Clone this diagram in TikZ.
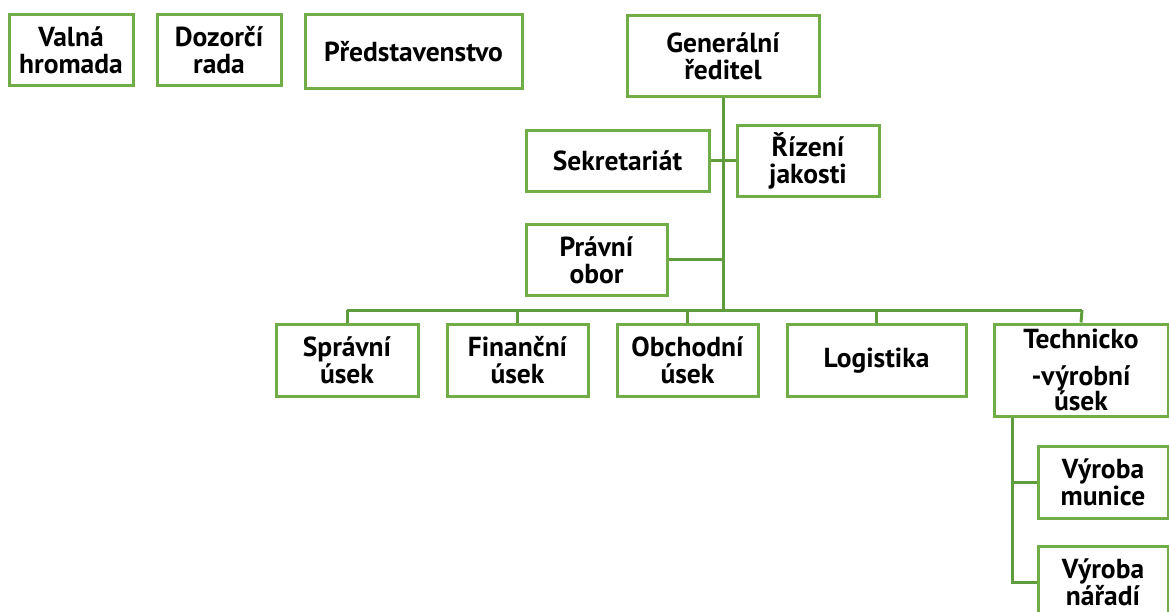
\documentclass[tikz,border=0pt]{standalone}
\usepackage{fontspec}
\setmainfont{PT Sans}
\definecolor{boxGreen}{HTML}{70AD47}
\definecolor{lineGreen}{HTML}{5E9C3C}
\tikzset{
    BOX/.style={draw=boxGreen, fill=white, line width=3pt, shape=rectangle,
        inner sep=0pt, align=center,
        font={\fontsize{27.5}{27}\selectfont\bfseries}},
    EDGE/.style={draw=lineGreen, line width=3pt}
}
\pgfdeclarelayer{edgelayer}
\pgfdeclarelayer{nodelayer}
\pgfsetlayers{edgelayer,nodelayer,main}
\begin{document}
\begin{tikzpicture}[x=1pt, y=-1pt]
    \useasboundingbox (0,0) rectangle (1169,612);
    \clip (0,0) rectangle (1169,612);
    \begin{pgfonlayer}{nodelayer}
        \node [BOX, minimum width=124pt, minimum height=71pt] (1) at (71, 50.5) {Valná\\hromada};
        \node [BOX, minimum width=124pt, minimum height=71pt] (2) at (219, 50.5) {Dozorčí\\rada};
        \node [BOX, minimum width=217pt, minimum height=74pt] (3) at (413.5, 52) {Představenstvo};
        \node [BOX, minimum width=192pt, minimum height=81pt] (4) at (723, 56) {Generální\\ředitel};
        \node [BOX, minimum width=183pt, minimum height=61pt] (5) at (617.5, 161) {Sekretariát};
        \node [BOX, minimum width=142pt, minimum height=71pt] (6) at (808, 161) {Řízení\\jakosti};
        \node [BOX, minimum width=141pt, minimum height=70pt] (7) at (596.5, 260) {Právní\\obor};
        \node [BOX, minimum width=142pt, minimum height=72pt] (8) at (347, 360) {Správní\\úsek};
        \node [BOX, minimum width=141pt, minimum height=72pt] (9) at (517.5, 360) {Finanční\\úsek};
        \node [BOX, minimum width=141pt, minimum height=72pt] (10) at (687.5, 360) {Obchodní\\úsek};
        \node [BOX, minimum width=179pt, minimum height=72pt] (11) at (876.5, 360.5) {Logistika};
        \node [BOX, minimum width=174pt, minimum height=92pt] (12) at (1081, 370) {Technicko\\[10pt]-výrobní\\[-2pt]úsek};
        \node [BOX, minimum width=130pt, minimum height=72pt] (13) at (1103, 482) {Výroba\\munice};
        \node [BOX, minimum width=130pt, minimum height=72pt] (14) at (1103, 582) {Výroba\\nářadí};
        \coordinate (15) at (723, 310);
        \coordinate (16) at (347, 310);
        \coordinate (17) at (1082, 310);
        \coordinate (18) at (1012, 417);
        \coordinate (19) at (1012, 582);
    \end{pgfonlayer}
    \begin{pgfonlayer}{edgelayer}
        \draw[EDGE] (4.south) to (15);
        \draw[EDGE] (16) to (17);
        \draw[EDGE] (5.east) to (5.east -| 15);
        \draw[EDGE] (6.west) to (6.west -| 15);
        \draw[EDGE] (7.east) to (7.east -| 15);
        \draw[EDGE] (16) to (8.north);
        \draw[EDGE] (9.north |- 16) to (9.north);
        \draw[EDGE] (10.north |- 16) to (10.north);
        \draw[EDGE] (11.north |- 16) to (11.north);
        \draw[EDGE] (17) to (12.north);
        \draw[EDGE] (18) to (19) to (14.west);
        \draw[EDGE] (18 |- 13.west) to (13.west);
    \end{pgfonlayer}
\end{tikzpicture}
\end{document}
